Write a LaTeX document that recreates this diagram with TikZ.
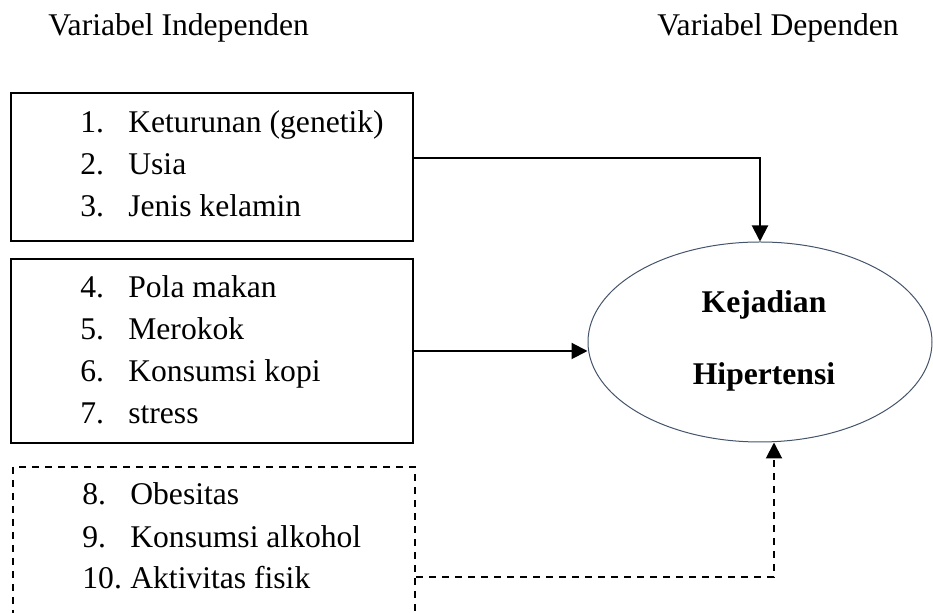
\documentclass[tikz,border=0pt]{standalone}
\usepackage{fontspec}
\setmainfont{Liberation Serif}
\usetikzlibrary{calc}
\usetikzlibrary{positioning}
\usetikzlibrary{arrows.meta}
\usetikzlibrary{shapes.geometric}
\definecolor{ovalline}{HTML}{44546A}
\def\thickness{boxline}
\newcommand{\itm}[2]{\makebox[24pt][l]{#1}#2}
\tikzset{
boxline/.style={line width=1.2pt},
txt/.style={inner sep=0pt, anchor=base west, font=\fontsize{15.8}{19}\selectfont},
boldtxt/.style={inner sep=0pt, anchor=base, font=\fontsize{15.8}{19}\selectfont\bfseries},
listbox/.style 2 args={draw, \thickness, minimum width=201pt, minimum height=#1, #2},
conn/.style={line width=1pt, -{Triangle[length=8pt,width=8pt]}},
oval/.style={draw=ovalline, line width=0.5pt, ellipse, minimum width=172pt, minimum height=100pt},
}

\begin{document}
\begin{tikzpicture}[x=0.5pt,y=-0.5pt]
\useasboundingbox (0,0) rectangle (933,613);
\clip (0,0) rectangle (933,613);

\node[txt] (indep) at (48,36) {Variabel Independen};
\node[txt] (dep) at (657,36) {Variabel Dependen};

%
\node[listbox={74pt}{}] (box1) at (212,167) {};
\node[txt] (k1) at (80,133) {\itm{1.}{Keturunan (genetik)}};
\node[txt] (k2) at (80,175) {\itm{2.}{Usia}};
\node[txt] (k3) at (80,217) {\itm{3.}{Jenis kelamin}};

%
\node[listbox={92pt}{}] (box2) at (212,351) {};
\node[txt] (k4) at (80,298) {\itm{4.}{Pola makan}};
\node[txt] (k5) at (80,340) {\itm{5.}{Merokok}};
\node[txt] (k6) at (80,382) {\itm{6.}{Konsumsi kopi}};
\node[txt] (k7) at (80,424) {\itm{7.}{stress}};

%
\node[listbox={92pt}{dash pattern=on 3.5pt off 3pt}] (box3) at (214,559) {};
\node[txt] (k8) at (82,505) {\itm{8.}{Obesitas}};
\node[txt] (k9) at (82,548) {\itm{9.}{Konsumsi alkohol}};
\node[txt] (k10) at (82,589) {\itm{10.}{Aktivitas fisik}};

%
\node[oval] (hip) at (760,342) {};
\node[boldtxt] (hip1) at (764,313) {Kejadian};
\node[boldtxt] (hip2) at (764,385) {Hipertensi};

%
\coordinate (d1) at ($(hip.south)+(14,0)$);
\draw[conn] (box1.east |- 0,158) -| (hip.north);
\draw[conn] (box2.east) -- (box2.east -| hip.west);
\draw[conn, dash pattern=on 3.5pt off 3pt] (box3.east |- 0,577) -| (d1);
\end{tikzpicture}
\end{document}
